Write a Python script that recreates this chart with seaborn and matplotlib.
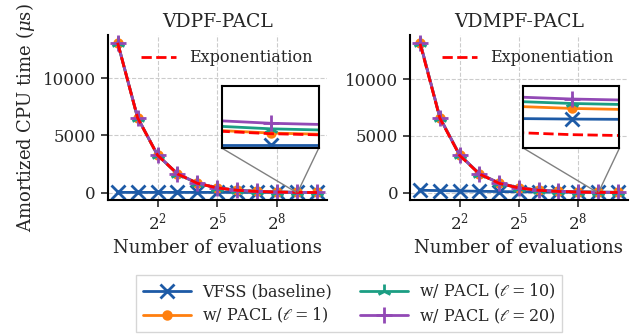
import seaborn as sns
import matplotlib.pyplot as plt
from mpl_toolkits.axes_grid1.inset_locator import mark_inset

# number of evaluations (powers of two)
n_evals = [1, 2, 4, 8, 16, 32, 64, 128, 256, 512, 1024]

# VDPF-PACL (left)
exp_left = [13100, 6550, 3280, 1640, 820, 410, 205, 103, 51.2, 25.4, 12.8]
vfss_left = [23, 22.5, 22.2, 22.1, 22, 22, 22, 22, 22, 22, 22]
pacl1_left = [13110, 6556, 3283, 1642, 821.5, 411, 205.8, 103.6, 51.8, 25.6, 13]
pacl10_left = [13120, 6562, 3288, 1645, 823, 412.5, 207, 104.8, 53, 26.9, 14.3]
pacl20_left = [13130, 6568, 3293, 1649, 826, 414.5, 209, 106.5, 54.7, 28.6, 16]

# VDMPF-PACL (right)
exp_right = [13100, 6550, 3280, 1640, 820, 410, 205, 103, 51.2, 25.4, 12.8]
vfss_right = [210, 180, 150, 120, 95, 75, 58, 46, 38, 31.7, 28]
pacl1_right = [13200, 6600, 3310, 1660, 835, 423, 216, 113, 61, 36, 22]
pacl10_right = [13210, 6606, 3314, 1663, 837, 425, 218, 115, 63, 38, 24]
pacl20_right = [13220, 6612, 3318, 1666, 840, 427, 220, 117, 65, 39.8, 26]

titles = ["VDPF-PACL", "VDMPF-PACL"]
inset_ylims = [(21, 40), (20, 45)]

colors = {"vfss": "#1d5aa6", "pacl1": "#ff7f0e", "pacl10": "#1b9e83",
          "pacl20": "#9249b5", "exp": "#ff0000"}

sns.set_style("ticks")
plt.rcParams["font.family"] = ["DejaVu Serif"]
plt.rcParams["mathtext.fontset"] = "dejavuserif"


def draw_series(ax, vfss, p1, p10, p20, expo, with_labels=True):
    lab = (lambda s: s) if with_labels else (lambda s: "_nolegend_")
    specs = [
        (vfss, "vfss", "x", 10, "VFSS (baseline)"),
        (p1, "pacl1", "o", 5.5, r"w/ PACL ($\ell = 1$)"),
        (p10, "pacl10", "2", 10, r"w/ PACL ($\ell = 10$)"),
        (p20, "pacl20", "+", 11, r"w/ PACL ($\ell = 20$)"),
    ]
    for y, key, mk, ms, name in specs:
        sns.lineplot(x=n_evals, y=y, ax=ax, color=colors[key], marker=mk,
                     markersize=ms, markeredgewidth=2, markeredgecolor=colors[key],
                     markerfacecolor=colors[key], linewidth=2,
                     label=lab(name), legend=False)
    sns.lineplot(x=n_evals, y=expo, ax=ax, color=colors["exp"], linestyle="--",
                 linewidth=2, label=lab("Exponentiation"), legend=False)


fig = plt.figure(figsize=(6.41, 3.35), dpi=100)
ax_left = fig.add_axes([0.168, 0.403, 0.342, 0.4925])
ax_right = fig.add_axes([0.640, 0.403, 0.339, 0.4925])

data = [
    (vfss_left, pacl1_left, pacl10_left, pacl20_left, exp_left),
    (vfss_right, pacl1_right, pacl10_right, pacl20_right, exp_right),
]

for i, ax in enumerate([ax_left, ax_right]):
    vfss, p1, p10, p20, expo = data[i]
    draw_series(ax, vfss, p1, p10, p20, expo)
    ax.set_xscale("log", base=2)
    ax.set_xticks([4, 32, 256])
    ax.set_xticklabels([r"$2^{2}$", r"$2^{5}$", r"$2^{8}$"])
    ax.xaxis.set_minor_locator(plt.NullLocator())
    ax.set_yticks([0, 5000, 10000])
    ax.set_yticklabels(["0", "5000", "10000"])
    ax.tick_params(labelsize=12, length=5, width=1.2)
    ax.grid(True, linestyle="--", color="#cccccc", linewidth=0.8)
    ax.set_title(titles[i], fontsize=13.5)
    ax.set_xlabel("Number of evaluations", fontsize=13)
    sns.despine(ax=ax)
    for s in ["left", "bottom"]:
        ax.spines[s].set_linewidth(1.5)
        ax.spines[s].set_color("black")

    # legend for the exponentiation line only
    handles, labels = ax.get_legend_handles_labels()
    ax.legend([handles[-1]], [labels[-1]], loc="upper right", frameon=False,
              fontsize=11.5, handlelength=2.2)

    # zoomed inset around 2^9
    axins = ax.inset_axes([0.52, 0.315, 0.443, 0.375])
    draw_series(axins, vfss, p1, p10, p20, expo, with_labels=False)
    axins.set_xscale("log", base=2)
    axins.set_xlim(502, 522)
    axins.set_ylim(*inset_ylims[i])
    axins.set_xticks([])
    axins.set_yticks([])
    axins.xaxis.set_minor_locator(plt.NullLocator())
    axins.set_xlabel("")
    axins.set_ylabel("")
    axins.set_facecolor("white")
    for s in axins.spines.values():
        s.set_linewidth(1.5)
        s.set_color("black")
    mark_inset(ax, axins, loc1=3, loc2=4, fc="none", ec="0.5", lw=1)

ax_left.set_ylabel(r"Amortized CPU time ($\mu$s)", fontsize=13)

handles, labels = ax_left.get_legend_handles_labels()
fig.legend(handles[:4], labels[:4], loc="lower center", ncol=2,
           bbox_to_anchor=(0.545, -0.015), fontsize=11.5, frameon=True,
           fancybox=False, edgecolor="#cccccc", handlelength=3,
           columnspacing=1.8, handletextpad=0.7, labelspacing=0.35)

fig.savefig("out.png", dpi=100)
